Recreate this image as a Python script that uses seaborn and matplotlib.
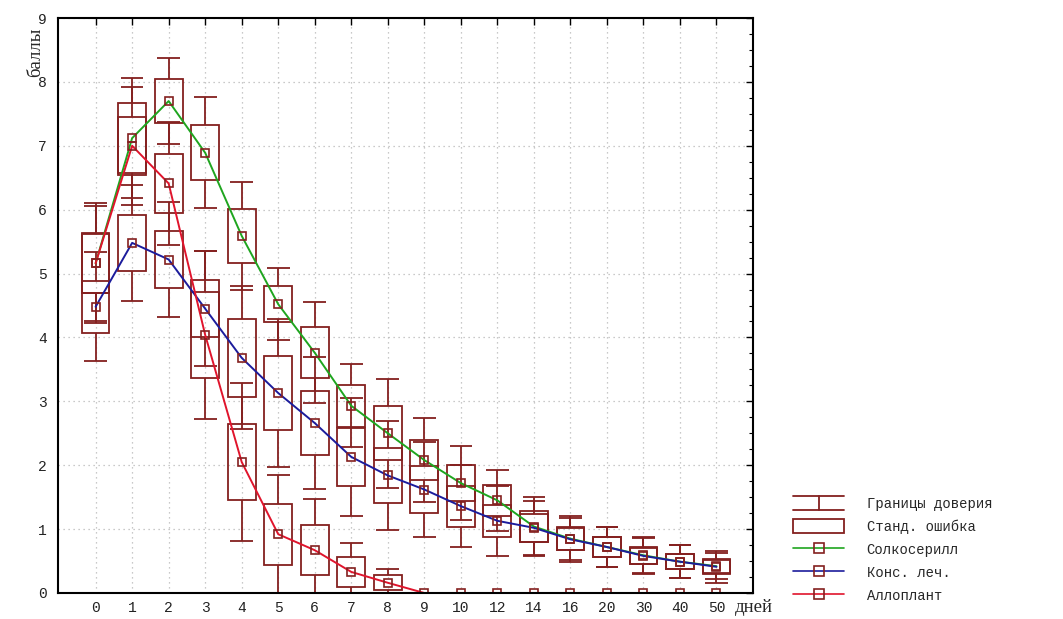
import numpy as np
import pandas as pd
import matplotlib
matplotlib.use("Agg")
import matplotlib.pyplot as plt
import matplotlib.patches as mpatches
from matplotlib.lines import Line2D
from matplotlib.legend_handler import HandlerBase
import seaborn as sns

# дни наблюдения
dias = ["0", "1", "2", "3", "4", "5", "6", "7", "8", "9",
        "10", "12", "14", "16", "20", "30", "40", "50"]

# Солкосерилл
g_media = [5.16, 7.12, 7.70, 6.89, 5.59, 4.52, 3.76, 2.93, 2.50, 2.08,
           1.72, 1.45, 1.04, 0.85, 0.72, 0.59, 0.49, 0.42]
g_se = [0.47, 0.55, 0.34, 0.43, 0.42, 0.28, 0.40, 0.33, 0.42, 0.31,
        0.28, 0.24, 0.24, 0.18, 0.16, 0.13, 0.12, 0.11]
g_ic = [0.94, 0.94, 0.67, 0.87, 0.85, 0.56, 0.79, 0.65, 0.85, 0.66,
        0.58, 0.48, 0.46, 0.33, 0.31, 0.28, 0.26, 0.20]

# Конс. леч.
b_media = [4.48, 5.48, 5.22, 4.45, 3.68, 3.13, 2.66, 2.13, 1.84, 1.62,
           1.36, 1.13, 1.02, 0.84, 0.72, 0.58, 0.49, 0.41]
b_se = [0.41, 0.44, 0.45, 0.45, 0.61, 0.58, 0.50, 0.46, 0.43, 0.37,
        0.32, 0.25, 0.22, 0.17, 0.16, 0.13, 0.12, 0.11]
b_ic = [0.85, 0.91, 0.90, 0.90, 1.12, 1.16, 1.03, 0.93, 0.85, 0.75,
        0.64, 0.55, 0.42, 0.36, 0.31, 0.28, 0.26, 0.25]

# Аллоплант
r_media = [5.16, 7.00, 6.41, 4.04, 2.05, 0.92, 0.67, 0.33, 0.16, 0.0,
           0.0, 0.0, 0.0, 0.0, 0.0, 0.0, 0.0, 0.0]
r_se = [0.46, 0.45, 0.46, 0.67, 0.60, 0.48, 0.39, 0.24, 0.12, 0.0,
        0.0, 0.0, 0.0, 0.0, 0.0, 0.0, 0.0, 0.0]
r_ic = [0.90, 0.92, 0.96, 1.32, 1.23, 0.92, 0.80, 0.45, 0.22, 0.0,
        0.0, 0.0, 0.0, 0.0, 0.0, 0.0, 0.0, 0.0]

grupos = ["Солкосерилл", "Конс. леч.", "Аллоплант"]
colores = {"Солкосерилл": "#1fa51f", "Конс. леч.": "#1c1c9c", "Аллоплант": "#e0142c"}
caja_color = "#84201f"

pos = np.arange(len(dias))
frames = []
for nombre, m, s, c in zip(grupos, [g_media, b_media, r_media],
                           [g_se, b_se, r_se], [g_ic, b_ic, r_ic]):
    frames.append(pd.DataFrame({"pos": pos, "dia": dias, "grupo": nombre,
                                "media": m, "se": s, "ic": c}))
df = pd.concat(frames, ignore_index=True)

sns.set_style("white")
fig = plt.figure(figsize=(10.63, 6.19), dpi=100)
ax = fig.add_axes([58 / 1063, 1 - 593 / 619, (753 - 58) / 1063, (593 - 18) / 619])

# cajas (error estandar) y bigotes (intervalo de confianza)
ancho = 0.76
tapa = 0.31
for nombre in grupos:
    d = df[df["grupo"] == nombre]
    ax.bar(d["pos"], 2 * d["se"], bottom=d["media"] - d["se"], width=ancho,
           fill=False, edgecolor=caja_color, linewidth=1.3, zorder=3)
    ax.vlines(d["pos"], d["media"] + d["se"], d["media"] + d["ic"],
              color=caja_color, linewidth=1.3, zorder=3)
    ax.vlines(d["pos"], d["media"] - d["ic"], d["media"] - d["se"],
              color=caja_color, linewidth=1.3, zorder=3)
    ax.hlines(d["media"] + d["ic"], d["pos"] - tapa, d["pos"] + tapa,
              color=caja_color, linewidth=1.3, zorder=3)
    ax.hlines(d["media"] - d["ic"], d["pos"] - tapa, d["pos"] + tapa,
              color=caja_color, linewidth=1.3, zorder=3)

sns.lineplot(data=df, x="pos", y="media", hue="grupo", hue_order=grupos,
             palette=colores, linewidth=1.4, legend=False, ax=ax, zorder=4,
             errorbar=None)
ax.plot(df["pos"], df["media"], ls="none", marker="s", markersize=6,
        markerfacecolor="none", markeredgecolor=caja_color,
        markeredgewidth=1.2, zorder=5)

ax.set_xlim(-1.03, len(dias))
ax.set_ylim(0, 9)
ax.set_xticks(pos)
ax.set_xticklabels(dias)
ax.set_yticks(np.arange(0, 10, 1))
ax.set_yticks(np.arange(0, 9.01, 0.25), minor=True)
ax.set_xlabel("")
ax.set_ylabel("")
ax.grid(True, which="major", color="#b8b8b8", linestyle=(0, (1, 3)), linewidth=0.9)
ax.set_axisbelow(True)
for sp in ax.spines.values():
    sp.set_color("black")
    sp.set_linewidth(1.5)
    sp.set_zorder(6)
ax.tick_params(axis="both", which="both", direction="in", top=True, right=True,
               colors="black", labelcolor="#222222")
ax.tick_params(axis="both", which="major", length=5, width=1)
ax.tick_params(axis="y", which="minor", length=3, width=0.8)
ax.tick_params(axis="x", which="minor", length=0)
ax.tick_params(axis="y", pad=8)
ax.tick_params(axis="x", pad=6)
for lab in ax.get_xticklabels() + ax.get_yticklabels():
    lab.set_family("Liberation Mono")
    lab.set_fontsize(10.5)

fig.text(36 / 1063, 1 - 52 / 619, "баллы", rotation=90, ha="center", va="center",
         family="Liberation Serif", fontsize=13.5)
fig.text(735 / 1063, 1 - 607 / 619, "дней", ha="left", va="center",
         family="Liberation Serif", fontsize=13.5)


class ManejadorIC(HandlerBase):
    def create_artists(self, legend, orig, xd, yd, w, h, fontsize, trans):
        x0, y0 = -xd, -yd
        xm = x0 + w / 2
        arts = [Line2D([x0, x0 + w], [y0 + h, y0 + h]),
                Line2D([x0, x0 + w], [y0, y0]),
                Line2D([xm, xm], [y0, y0 + h])]
        for a in arts:
            a.set_color(caja_color)
            a.set_linewidth(1.3)
            a.set_transform(trans)
        return arts


h_ic = Line2D([], [], color=caja_color)
h_se = mpatches.Rectangle((0, 0), 1, 1, fill=False, edgecolor=caja_color, linewidth=1.3)
h_lin = [Line2D([], [], color=colores[n], linewidth=1.2, marker="s", markersize=7,
                markerfacecolor="none", markeredgecolor=caja_color, markeredgewidth=1.2)
         for n in grupos]
fig.legend([h_ic, h_se] + h_lin,
           ["Границы доверия", "Станд. ошибка"] + grupos,
           handler_map={h_ic: ManejadorIC()},
           loc="upper left", bbox_to_anchor=(793 / 1063, 1 - 496 / 619),
           frameon=False, borderpad=0, borderaxespad=0,
           handlelength=3.7, handleheight=1.2, handletextpad=1.6,
           labelspacing=0.6, prop={"family": "Liberation Mono", "size": 10})

fig.savefig("out.png", dpi=100)
